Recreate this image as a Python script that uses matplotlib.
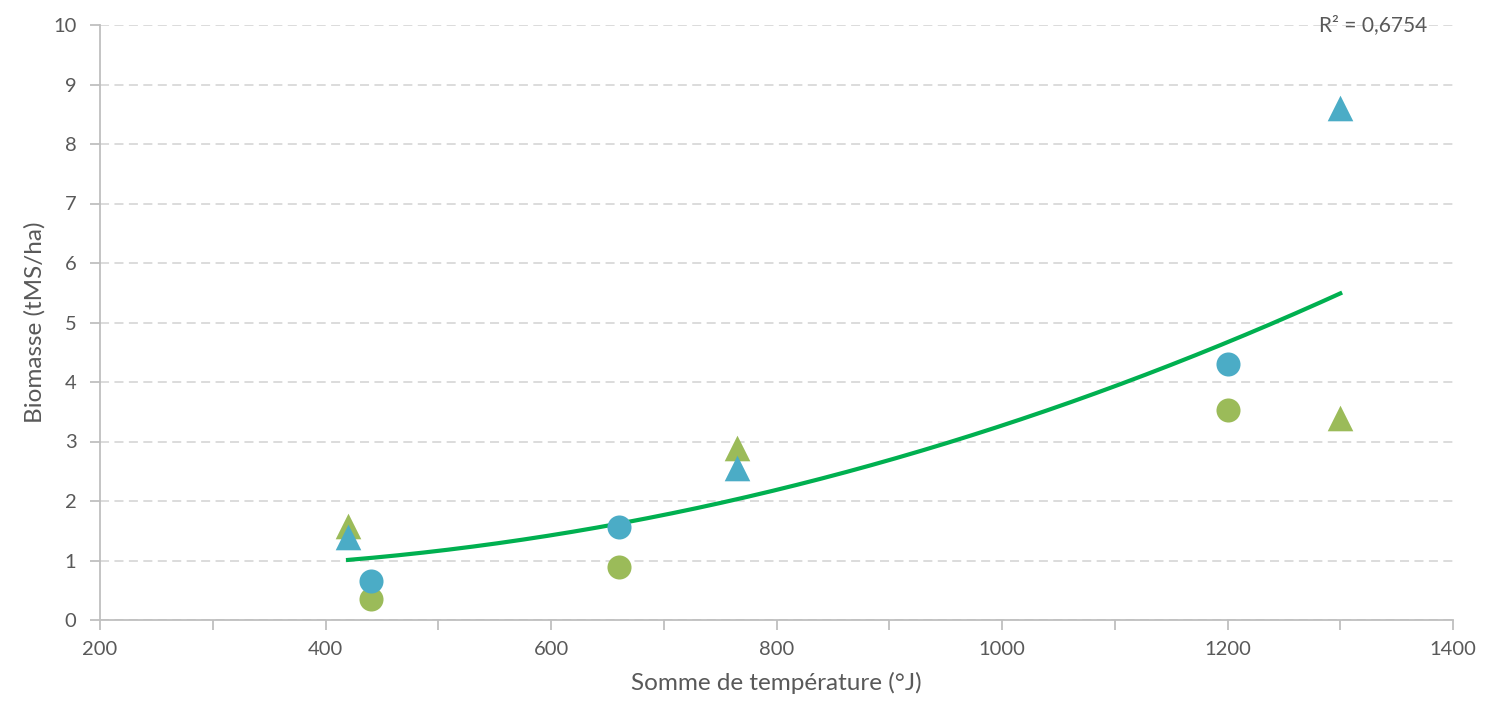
import matplotlib.pyplot as plt
import numpy as np

# somme de température (°J) et biomasse (tMS/ha)
tri_x = [420, 765, 1300]
tri_blue = [1.39, 2.56, 8.6]
tri_green = [1.58, 2.89, 3.4]
circ_x = [440, 660, 1200]
circ_blue = [0.66, 1.56, 4.31]
circ_green = [0.35, 0.89, 3.53]

BLUE = '#4BACC6'
GREEN = '#9BBB59'
TREND = '#00B050'
GREY = '#595959'

plt.rcParams['font.family'] = ['Lato', 'DejaVu Sans']

# courbe de tendance polynomiale (ordre 2) sur tous les points
all_x = np.array(tri_x * 2 + circ_x * 2, dtype=float)
all_y = np.array(tri_blue + tri_green + circ_blue + circ_green)
coefs = np.polyfit(all_x, all_y, 2)

fig = plt.figure(figsize=(14.89, 7.13), dpi=100)
ax = fig.add_axes([100 / 1489, 93 / 713, 1353 / 1489, 595 / 713])

xs = np.linspace(min(all_x), max(all_x), 200)
ax.plot(xs, np.polyval(coefs, xs), color=TREND, lw=3, zorder=2)

ax.scatter(circ_x, circ_green, s=300, color=GREEN, marker='o', lw=0, zorder=3)
ax.scatter(circ_x, circ_blue, s=300, color=BLUE, marker='o', lw=0, zorder=3)
ax.scatter(tri_x, tri_green, s=340, color=GREEN, marker='^', lw=0, zorder=3)
ax.scatter(tri_x, tri_blue, s=340, color=BLUE, marker='^', lw=0, zorder=3)

ax.set_xlim(200, 1400)
ax.set_ylim(0, 10)
ax.set_xticks(range(200, 1401, 200))
ax.set_xticks(range(300, 1400, 200), minor=True)
ax.set_yticks(range(0, 11))
ax.grid(axis='y', color='#D9D9D9', ls=(0, (5, 3)), lw=1.3)
ax.set_axisbelow(True)
for s in ['top', 'right']:
    ax.spines[s].set_visible(False)
for s in ['left', 'bottom']:
    ax.spines[s].set_color('#BFBFBF')
    ax.spines[s].set_linewidth(1.3)
ax.tick_params(which='both', color='#BFBFBF', width=1.3, length=7, labelsize=14.5, labelcolor=GREY)
ax.tick_params(axis='x', pad=8)
ax.tick_params(axis='y', pad=10)

ax.set_xlabel('Somme de température (°J)', fontsize=17.5, color=GREY, labelpad=10)
ax.set_ylabel('Biomasse (tMS/ha)', fontsize=17.5, color=GREY, labelpad=5)
ax.text(1329, 10, 'R² = 0,6754', fontsize=15, color=GREY, ha='center', va='center')

plt.savefig('out.png')
